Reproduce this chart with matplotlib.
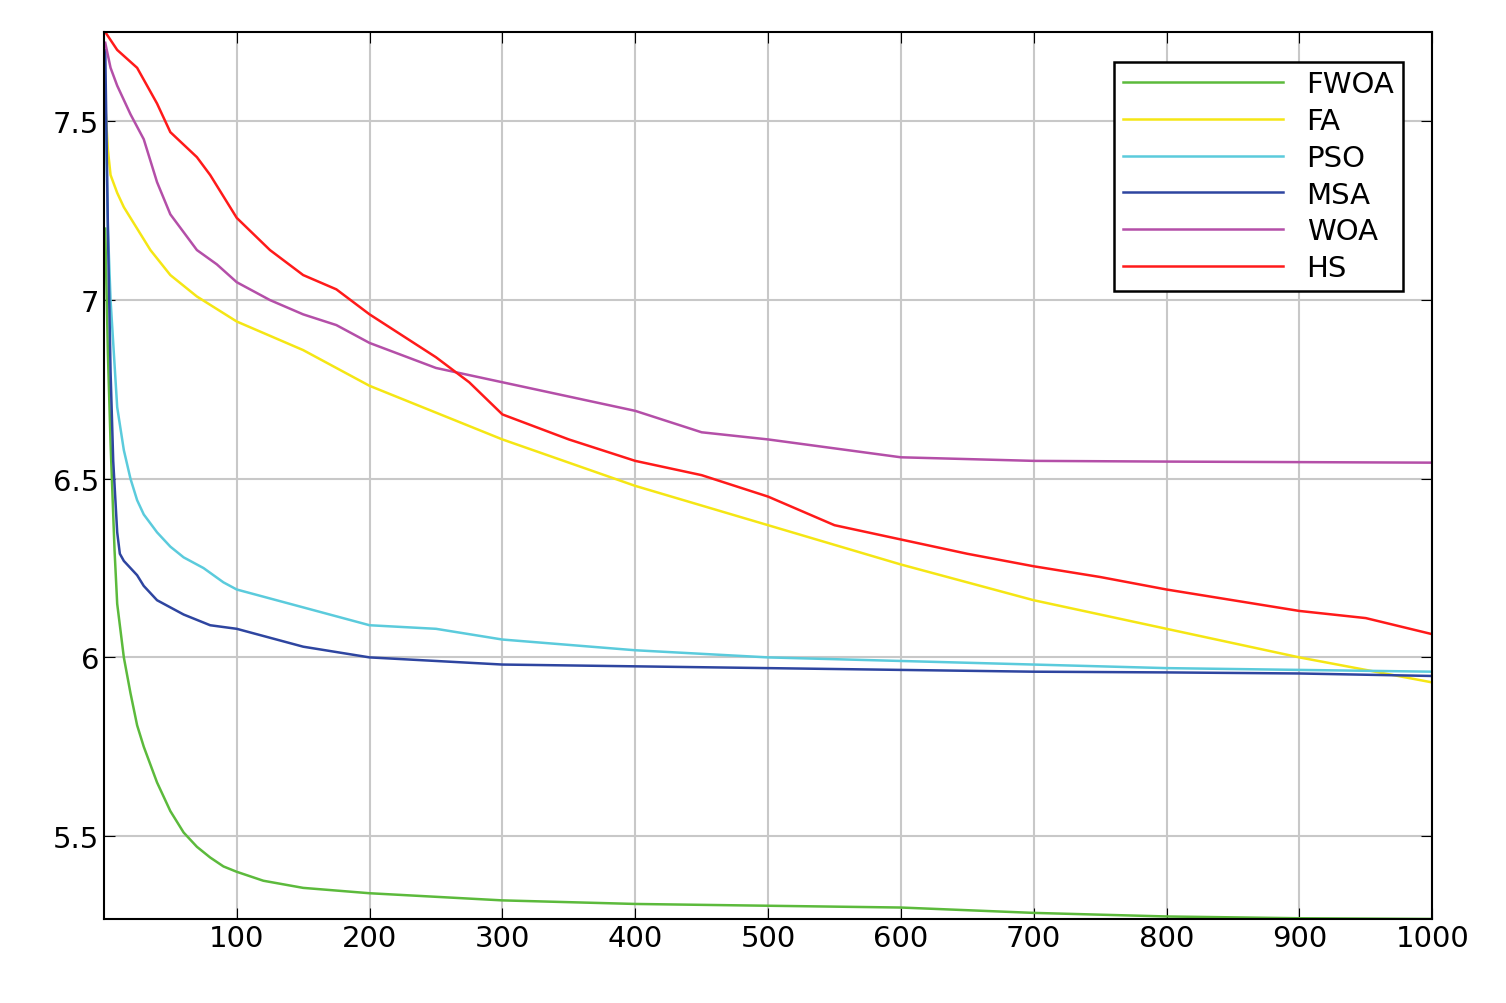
import matplotlib
matplotlib.use("Agg")
import matplotlib.pyplot as plt

fwoa_x = [1,3,5,8,10,15,20,25,30,40,50,60,70,80,90,100,120,150,200,300,400,500,600,700,800,900,1000]
fwoa_y = [7.2,6.85,6.6,6.3,6.15,6.0,5.9,5.81,5.75,5.65,5.57,5.51,5.47,5.44,5.415,5.40,5.375,5.355,5.34,5.32,5.31,5.305,5.30,5.285,5.275,5.27,5.268]
fa_x = [1,3,5,10,15,25,35,50,70,100,150,200,300,400,500,600,700,800,900,1000]
fa_y = [7.55,7.42,7.35,7.3,7.26,7.2,7.14,7.07,7.01,6.94,6.86,6.76,6.61,6.48,6.37,6.26,6.16,6.08,6.0,5.93]
pso_x = [1,3,5,8,10,15,20,25,30,40,50,60,75,90,100,150,200,250,300,400,500,600,700,800,900,1000]
pso_y = [7.6,7.2,7.0,6.82,6.7,6.58,6.5,6.44,6.4,6.35,6.31,6.28,6.25,6.21,6.19,6.14,6.09,6.08,6.05,6.02,6.0,5.99,5.98,5.97,5.965,5.96]
msa_x = [1,3,5,7,10,12,15,20,25,30,40,50,60,80,100,150,200,300,400,500,600,700,800,900,1000]
msa_y = [7.7,7.2,6.8,6.55,6.35,6.29,6.27,6.25,6.23,6.2,6.16,6.14,6.12,6.09,6.08,6.03,6.0,5.98,5.975,5.97,5.965,5.96,5.958,5.955,5.948]
woa_x = [1,5,10,20,30,40,50,60,70,85,100,125,150,175,200,250,300,350,400,450,500,600,700,800,1000]
woa_y = [7.72,7.65,7.6,7.52,7.45,7.33,7.24,7.19,7.14,7.1,7.05,7.0,6.96,6.93,6.88,6.81,6.77,6.73,6.69,6.63,6.61,6.56,6.55,6.548,6.545]
hs_x = [1,10,25,40,50,70,80,100,125,150,175,200,225,250,275,300,350,400,450,500,550,600,650,700,750,800,850,900,950,1000]
hs_y = [7.75,7.7,7.65,7.55,7.47,7.40,7.35,7.23,7.14,7.07,7.03,6.96,6.9,6.84,6.77,6.68,6.61,6.55,6.51,6.45,6.37,6.33,6.29,6.255,6.225,6.19,6.16,6.13,6.11,6.065]
xticks = [100,200,300,400,500,600,700,800,900,1000]
yticks = [5.5,6,6.5,7,7.5]

fig = plt.figure(figsize=(15.06,10.04), dpi=100)
ax = fig.add_axes([0.069,0.0837,0.882,0.883])
ax.plot(fwoa_x, fwoa_y, color="#5cba3c", lw=1.8, label="FWOA")
ax.plot(fa_x, fa_y, color="#f5e614", lw=1.8, label="FA")
ax.plot(pso_x, pso_y, color="#5bcbdc", lw=1.8, label="PSO")
ax.plot(msa_x, msa_y, color="#2e45a0", lw=1.8, label="MSA")
ax.plot(woa_x, woa_y, color="#b44fa8", lw=1.8, label="WOA")
ax.plot(hs_x, hs_y, color="#ff1a1a", lw=1.8, label="HS")
ax.set_xlim(0,1000)
ax.set_ylim(5.268,7.749)
ax.set_xticks(xticks)
ax.set_xticklabels([str(t) for t in xticks])
ax.set_yticks(yticks)
ax.set_yticklabels(["5.5","6","6.5","7","7.5"])
ax.tick_params(labelsize=21, direction="in", top=True, right=True, length=8)
ax.grid(True, color="#c8c8c8", lw=1.5)
for s in ax.spines.values():
    s.set_linewidth(1.5)
leg = ax.legend(loc="upper right", fontsize=21, fancybox=False, framealpha=1,
                edgecolor="black", handlelength=5.5, borderaxespad=1.0,
                labelspacing=0.3, borderpad=0.3)
leg.get_frame().set_linewidth(1.8)
fig.savefig("out.png", dpi=100)
